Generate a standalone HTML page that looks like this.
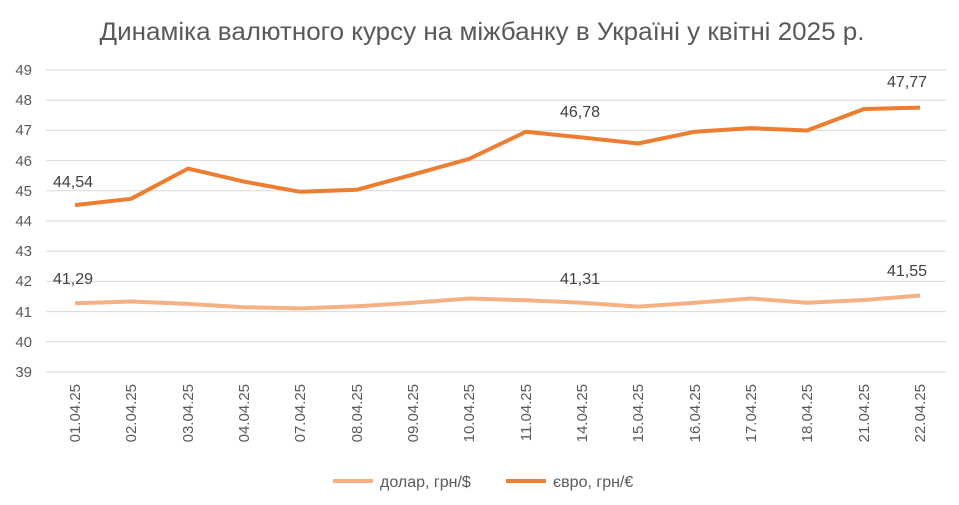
<!DOCTYPE html>
<html><head><meta charset="utf-8"><style>
body{margin:0;background:#fff;}
svg{display:block;font-family:"Liberation Sans",Calibri,sans-serif;}
</style></head><body>
<svg width="959" height="505" viewBox="0 0 959 505">
<rect width="959" height="505" fill="#fff"/>
<text x="482" y="40" text-anchor="middle" font-size="25" fill="#595959" textLength="765" lengthAdjust="spacingAndGlyphs">Динаміка валютного курсу на міжбанку в Україні у квітні 2025 р.</text>
<g stroke="#d9d9d9" stroke-width="1">
<line x1="46" x2="946" y1="70" y2="70"/><line x1="46" x2="946" y1="100.2" y2="100.2"/>
<line x1="46" x2="946" y1="130.4" y2="130.4"/><line x1="46" x2="946" y1="160.6" y2="160.6"/>
<line x1="46" x2="946" y1="190.8" y2="190.8"/><line x1="46" x2="946" y1="221" y2="221"/>
<line x1="46" x2="946" y1="251.2" y2="251.2"/><line x1="46" x2="946" y1="281.4" y2="281.4"/>
<line x1="46" x2="946" y1="311.6" y2="311.6"/><line x1="46" x2="946" y1="341.8" y2="341.8"/>
<line x1="46" x2="946" y1="372" y2="372"/>
</g>
<g font-size="15" fill="#595959" text-anchor="end">
<text x="32" y="75">49</text><text x="32" y="105">48</text><text x="32" y="135">47</text>
<text x="32" y="166">46</text><text x="32" y="196">45</text><text x="32" y="226">44</text>
<text x="32" y="256">43</text><text x="32" y="286">42</text><text x="32" y="317">41</text>
<text x="32" y="347">40</text><text x="32" y="377">39</text>
</g>
<g font-size="15" fill="#595959" text-anchor="end">
<text transform="translate(80,384) rotate(-90)">01.04.25</text>
<text transform="translate(136,384) rotate(-90)">02.04.25</text>
<text transform="translate(193,384) rotate(-90)">03.04.25</text>
<text transform="translate(249,384) rotate(-90)">04.04.25</text>
<text transform="translate(305,384) rotate(-90)">07.04.25</text>
<text transform="translate(362,384) rotate(-90)">08.04.25</text>
<text transform="translate(418,384) rotate(-90)">09.04.25</text>
<text transform="translate(474,384) rotate(-90)">10.04.25</text>
<text transform="translate(531,384) rotate(-90)">11.04.25</text>
<text transform="translate(587,384) rotate(-90)">14.04.25</text>
<text transform="translate(643,384) rotate(-90)">15.04.25</text>
<text transform="translate(700,384) rotate(-90)">16.04.25</text>
<text transform="translate(756,384) rotate(-90)">17.04.25</text>
<text transform="translate(812,384) rotate(-90)">18.04.25</text>
<text transform="translate(869,384) rotate(-90)">21.04.25</text>
<text transform="translate(925,384) rotate(-90)">22.04.25</text>
</g>
<polyline fill="none" stroke="#f4b183" stroke-width="4" stroke-linejoin="round" points="75,303.3 131,301.5 188,303.9 244,307.2 300,308.4 357,306.3 413,302.7 469,298.5 526,300.3 582,302.7 638,306.6 695,302.7 751,298.5 807,302.7 864,300 920,295.5"/>
<polyline fill="none" stroke="#ed7d31" stroke-width="4" stroke-linejoin="round" points="75,205.1 131,198.8 188,168.6 244,181.6 300,191.8 357,189.7 413,174.6 469,158.9 526,131.7 582,137.5 638,143.5 695,131.7 751,128.1 807,130.5 864,109 920,107.6"/>
<g font-size="16" fill="#404040" text-anchor="middle">
<text x="73" y="187">44,54</text><text x="580" y="117">46,78</text><text x="907" y="87">47,77</text>
<text x="73" y="284">41,29</text><text x="580" y="284">41,31</text><text x="907" y="276">41,55</text>
</g>
<line x1="333" x2="373" y1="481" y2="481" stroke="#f4b183" stroke-width="4"/>
<text x="380" y="487" font-size="16" fill="#595959">долар, грн/$</text>
<line x1="506" x2="546" y1="481" y2="481" stroke="#ed7d31" stroke-width="4"/>
<text x="553" y="487" font-size="16" fill="#595959">євро, грн/€</text>
</svg>
</body></html>
